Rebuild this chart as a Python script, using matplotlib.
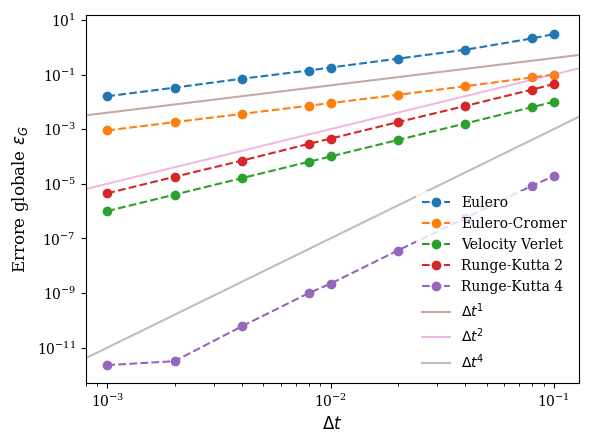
import numpy as np
import matplotlib
matplotlib.use("Agg")
import matplotlib.pyplot as plt
plt.rcParams['font.family'] = 'DejaVu Serif'

dt = [0.001, 0.002, 0.004, 0.008, 0.01, 0.02, 0.04, 0.08, 0.1]
eulero = [0.016, 0.033, 0.07, 0.14, 0.18, 0.38, 0.8, 2.1, 3.0]
cromer = [9e-4, 1.8e-3, 3.6e-3, 7.2e-3, 9e-3, 1.8e-2, 3.7e-2, 7.8e-2, 1.0e-1]
verlet = [1e-6, 4e-6, 1.6e-5, 6.4e-5, 1e-4, 4e-4, 1.6e-3, 6.4e-3, 1e-2]
rk2 = [4.5e-6, 1.8e-5, 7e-5, 2.9e-4, 4.5e-4, 1.8e-3, 7e-3, 2.8e-2, 4.5e-2]
rk4 = [2.3e-12, 3.2e-12, 6e-11, 1e-9, 2.2e-9, 3.6e-8, 5.5e-7, 8.5e-6, 1.9e-5]
names = ["Eulero", "Eulero-Cromer", "Velocity Verlet", "Runge-Kutta 2", "Runge-Kutta 4"]
ref_coef = [4, 10, 10]
ref_pow = [1, 2, 4]

fig, ax = plt.subplots(figsize=(5.91, 4.43), dpi=100)
for s, n in zip([eulero, cromer, verlet, rk2, rk4], names):
    ax.plot(dt, s, 'o--', label=n)
xx = np.logspace(np.log10(8e-4), np.log10(0.13), 50)
for c, p, col in zip(ref_coef, ref_pow, ['C5', 'C6', 'C7']):
    ax.plot(xx, c * xx**p, color=col, alpha=0.5, label=r'$\Delta t^{%d}$' % p)
ax.set_xscale('log'); ax.set_yscale('log')
ax.set_xlim(8e-4, 0.13)
ax.set_ylim(5e-13, 15)
ax.set_xlabel(r'$\Delta t$', fontsize=12)
ax.set_ylabel(r'Errore globale $\varepsilon_G$', fontsize=12)
ax.legend(loc='lower right', frameon=True, edgecolor='none', framealpha=0.8)
fig.subplots_adjust(left=0.145, right=0.98, top=0.966, bottom=0.135)
fig.savefig('out.png')
